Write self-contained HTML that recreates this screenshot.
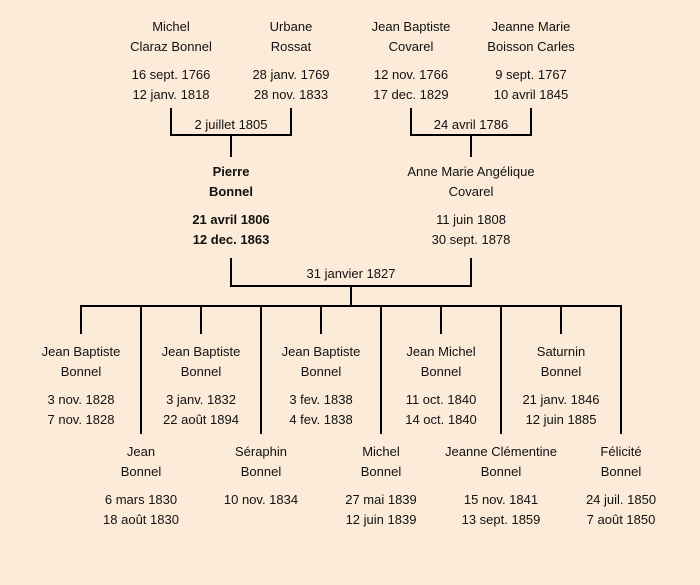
<!DOCTYPE html>
<html><head><meta charset="utf-8"><style>
html,body{margin:0;padding:0;}
body{width:700px;height:585px;background:#fcebd8;position:relative;overflow:hidden;font-family:"Comic Sans MS","Liberation Sans",sans-serif;font-size:13px;color:#111;}
.t{position:absolute;width:160px;margin-left:-80px;text-align:center;line-height:20px;white-space:nowrap;}
.b{font-weight:bold;}
svg{position:absolute;left:0;top:0;}
</style></head><body>
<svg width="700" height="585">
<g stroke="#000" stroke-width="2" fill="none">
<polyline points="171,108 171,135 291,135 291,108"/>
<line x1="231" y1="135" x2="231" y2="157"/>
<polyline points="411,108 411,135 531,135 531,108"/>
<line x1="471" y1="135" x2="471" y2="157"/>
<polyline points="231,258 231,286 471,286 471,258"/>
<line x1="351" y1="286" x2="351" y2="306"/>
<line x1="80" y1="306" x2="622" y2="306"/>
<line x1="81" y1="306" x2="81" y2="334"/>
<line x1="201" y1="306" x2="201" y2="334"/>
<line x1="321" y1="306" x2="321" y2="334"/>
<line x1="441" y1="306" x2="441" y2="334"/>
<line x1="561" y1="306" x2="561" y2="334"/>
<line x1="141" y1="306" x2="141" y2="434"/>
<line x1="261" y1="306" x2="261" y2="434"/>
<line x1="381" y1="306" x2="381" y2="434"/>
<line x1="501" y1="306" x2="501" y2="434"/>
<line x1="621" y1="306" x2="621" y2="434"/>
</g></svg>

<div class="t" style="left:171px;top:17px">Michel<br>Claraz Bonnel</div>
<div class="t" style="left:171px;top:65px">16 sept. 1766<br>12 janv. 1818</div>
<div class="t" style="left:291px;top:17px">Urbane<br>Rossat</div>
<div class="t" style="left:291px;top:65px">28 janv. 1769<br>28 nov. 1833</div>
<div class="t" style="left:411px;top:17px">Jean Baptiste<br>Covarel</div>
<div class="t" style="left:411px;top:65px">12 nov. 1766<br>17 dec. 1829</div>
<div class="t" style="left:531px;top:17px">Jeanne Marie<br>Boisson Carles</div>
<div class="t" style="left:531px;top:65px">9 sept. 1767<br>10 avril 1845</div>
<div class="t" style="left:231px;top:115px">2 juillet 1805</div>
<div class="t" style="left:471px;top:115px">24 avril 1786</div>

<div class="t b" style="left:231px;top:162px">Pierre<br>Bonnel</div>
<div class="t b" style="left:231px;top:210px">21 avril 1806<br>12 dec. 1863</div>
<div class="t" style="left:471px;top:162px">Anne Marie Angélique<br>Covarel</div>
<div class="t" style="left:471px;top:210px">11 juin 1808<br>30 sept. 1878</div>
<div class="t" style="left:351px;top:264px">31 janvier 1827</div>

<div class="t" style="left:81px;top:342px">Jean Baptiste<br>Bonnel</div>
<div class="t" style="left:81px;top:390px">3 nov. 1828<br>7 nov. 1828</div>
<div class="t" style="left:201px;top:342px">Jean Baptiste<br>Bonnel</div>
<div class="t" style="left:201px;top:390px">3 janv. 1832<br>22 août 1894</div>
<div class="t" style="left:321px;top:342px">Jean Baptiste<br>Bonnel</div>
<div class="t" style="left:321px;top:390px">3 fev. 1838<br>4 fev. 1838</div>
<div class="t" style="left:441px;top:342px">Jean Michel<br>Bonnel</div>
<div class="t" style="left:441px;top:390px">11 oct. 1840<br>14 oct. 1840</div>
<div class="t" style="left:561px;top:342px">Saturnin<br>Bonnel</div>
<div class="t" style="left:561px;top:390px">21 janv. 1846<br>12 juin 1885</div>

<div class="t" style="left:141px;top:442px">Jean<br>Bonnel</div>
<div class="t" style="left:141px;top:490px">6 mars 1830<br>18 août 1830</div>
<div class="t" style="left:261px;top:442px">Séraphin<br>Bonnel</div>
<div class="t" style="left:261px;top:490px">10 nov. 1834</div>
<div class="t" style="left:381px;top:442px">Michel<br>Bonnel</div>
<div class="t" style="left:381px;top:490px">27 mai 1839<br>12 juin 1839</div>
<div class="t" style="left:501px;top:442px">Jeanne Clémentine<br>Bonnel</div>
<div class="t" style="left:501px;top:490px">15 nov. 1841<br>13 sept. 1859</div>
<div class="t" style="left:621px;top:442px">Félicité<br>Bonnel</div>
<div class="t" style="left:621px;top:490px">24 juil. 1850<br>7 août 1850</div>
</body></html>
